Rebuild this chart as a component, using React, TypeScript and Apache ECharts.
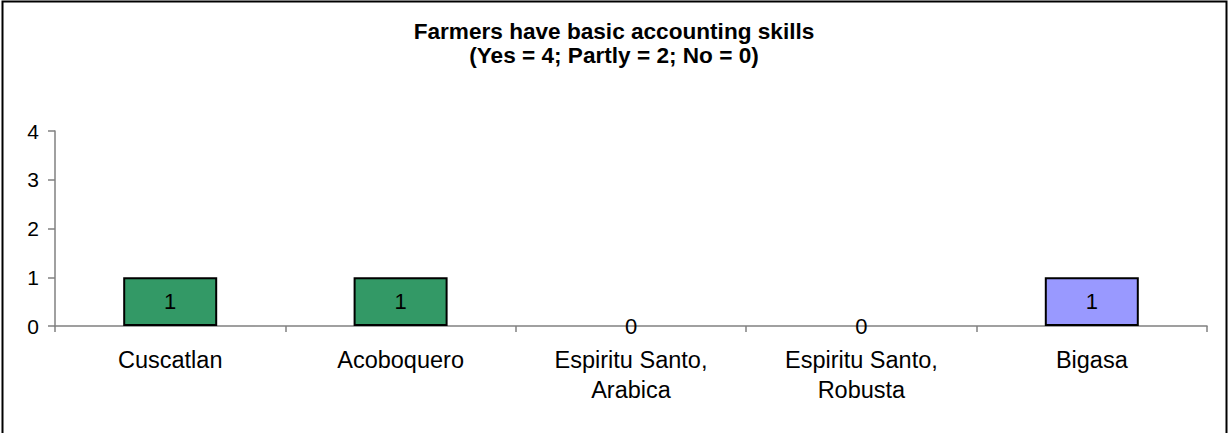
import React, { useEffect, useRef } from "react";
import * as echarts from "echarts";

// Chart content
const titleLines = ["Farmers have basic accounting skills", "(Yes = 4; Partly = 2; No = 0)"];
const categories = ["Cuscatlan", "Acoboquero", "Espiritu Santo,\nArabica", "Espiritu Santo,\nRobusta", "Bigasa"];
const scores = [1, 1, 0, 0, 1];
const yTicks = [0, 1, 2, 3, 4];

// Fill colour for each bar
const barFills = ["#339966", "#339966", "#339966", "#339966", "#9999FF"];

const FONT = "Arial, 'Liberation Sans', Helvetica, sans-serif";

export default function App() {
  const ref = useRef<HTMLDivElement>(null);

  useEffect(() => {
    if (!ref.current) return;
    const chart = echarts.init(ref.current, undefined, { renderer: "svg" });
    chart.setOption({
      animation: false,
      backgroundColor: "#ffffff",
      title: {
        text: titleLines.join("\n"),
        left: "center",
        top: 14,
        textStyle: {
          fontFamily: FONT,
          fontSize: 22.6,
          fontWeight: "bold",
          color: "#000",
          lineHeight: 24,
        },
      },
      graphic: [
        {
          type: "rect",
          shape: { x: 2.5, y: 1.5, width: 1224, height: 445 },
          style: { fill: "none", stroke: "#000", lineWidth: 2 },
          silent: true,
        },
      ],
      grid: { left: 55, right: 21, top: 131, bottom: 107 },
      xAxis: {
        type: "category",
        data: categories,
        axisLine: { show: true, lineStyle: { color: "#808080", width: 1.5 } },
        axisTick: { show: true, alignWithLabel: false, length: 6, lineStyle: { color: "#808080", width: 1.5 } },
        axisLabel: {
          fontFamily: FONT,
          fontSize: 23.5,
          color: "#000",
          lineHeight: 30,
          margin: 19,
          interval: 0,
        },
      },
      yAxis: {
        type: "value",
        min: yTicks[0],
        max: yTicks[yTicks.length - 1],
        interval: 1,
        splitLine: { show: false },
        axisLine: { show: true, lineStyle: { color: "#808080", width: 1.5 } },
        axisTick: { show: true, length: 7, lineStyle: { color: "#808080", width: 1.5 } },
        axisLabel: {
          fontFamily: FONT,
          fontSize: 21,
          color: "#000",
          margin: 16,
        },
      },
      series: [
        {
          type: "bar",
          barWidth: "40.8%",
          data: scores.map((v, i) => ({
            value: v,
            itemStyle: {
              color: barFills[i],
              borderColor: "#000",
              borderWidth: v === 0 ? 0 : 2,
            },
          })),
          label: {
            show: true,
            position: "inside",
            fontFamily: FONT,
            fontSize: 22,
            color: "#000",
          },
        },
      ],
    });
    return () => chart.dispose();
  }, []);

  return (
    <div
      ref={ref}
      style={{ position: "fixed", left: 0, top: 0, width: 1228, height: 433 }}
    />
  );
}
